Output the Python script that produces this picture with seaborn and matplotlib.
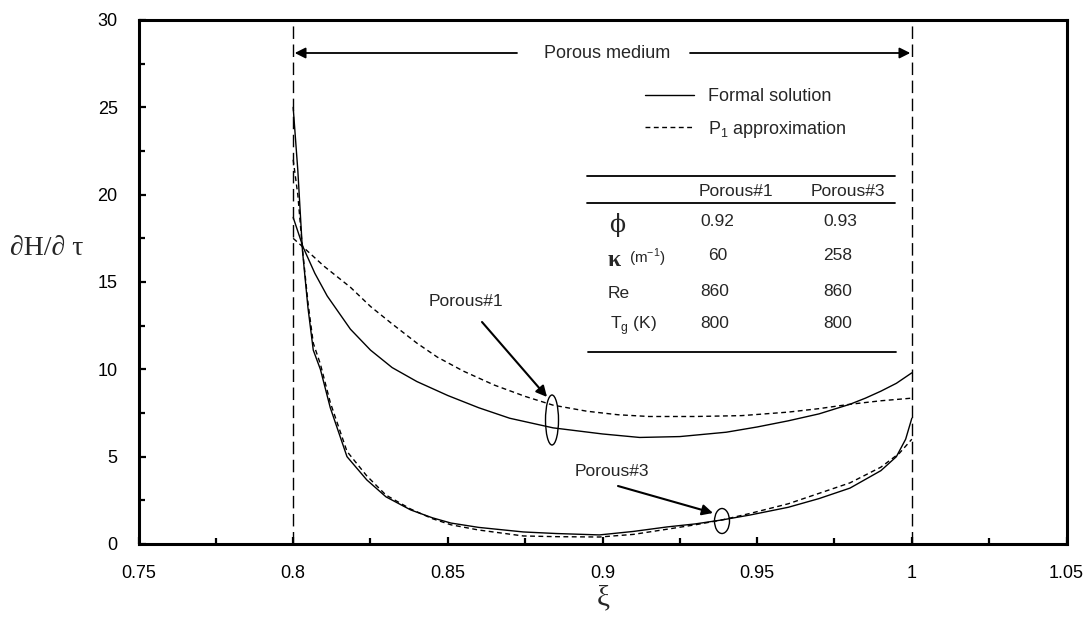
import matplotlib
matplotlib.use("Agg")
import matplotlib.pyplot as plt
import seaborn as sns
import pandas as pd
from matplotlib.patches import Ellipse
from matplotlib.lines import Line2D
from matplotlib.ticker import MultipleLocator

# ---------------- data ----------------
xi_p1_formal = [0.800, 0.8032, 0.807, 0.811, 0.8185, 0.825, 0.832, 0.840, 0.850, 0.860,
                0.870, 0.884, 0.900, 0.912, 0.925, 0.940, 0.950, 0.960, 0.970, 0.980,
                0.985, 0.990, 0.995, 1.000]
h_p1_formal = [18.7, 17.0, 15.5, 14.2, 12.3, 11.1, 10.1, 9.3, 8.5, 7.8,
               7.2, 6.65, 6.3, 6.1, 6.15, 6.4, 6.7, 7.05, 7.45, 8.0,
               8.35, 8.75, 9.2, 9.8]

xi_p1_approx = [0.800, 0.8032, 0.810, 0.8185, 0.825, 0.832, 0.840, 0.8466, 0.855, 0.865,
                0.875, 0.884, 0.895, 0.905, 0.915, 0.930, 0.945, 0.960, 0.970, 0.980,
                0.990, 1.000]
h_p1_approx = [17.5, 17.0, 15.9, 14.7, 13.6, 12.6, 11.5, 10.7, 9.9, 9.1,
               8.45, 7.95, 7.6, 7.4, 7.3, 7.3, 7.35, 7.55, 7.75, 8.0,
               8.2, 8.35]

xi_p3_formal = [0.800, 0.8015, 0.803, 0.8048, 0.8065, 0.8088, 0.812, 0.8174, 0.8238, 0.830,
                0.838, 0.845, 0.851, 0.860, 0.8744, 0.885, 0.899, 0.910, 0.921, 0.930,
                0.9387, 0.9477, 0.960, 0.970, 0.980, 0.990, 0.995, 0.998, 1.000]
h_p3_formal = [25.0, 21.4, 16.8, 13.5, 11.1, 10.0, 7.8, 5.0, 3.67, 2.7,
               1.95, 1.5, 1.2, 0.95, 0.69, 0.6, 0.52, 0.72, 0.98, 1.15,
               1.38, 1.66, 2.1, 2.6, 3.2, 4.2, 5.0, 6.0, 7.2]

xi_p3_approx = [0.800, 0.8015, 0.803, 0.8048, 0.8065, 0.8088, 0.812, 0.8174, 0.8238, 0.830,
                0.838, 0.845, 0.851, 0.860, 0.8744, 0.885, 0.899, 0.910, 0.921, 0.930,
                0.9387, 0.9477, 0.960, 0.970, 0.980, 0.990, 0.996, 1.000]
h_p3_approx = [22.0, 20.0, 16.9, 13.8, 11.5, 10.3, 8.1, 5.3, 3.9, 2.8,
               2.0, 1.45, 1.1, 0.8, 0.46, 0.42, 0.4, 0.55, 0.85, 1.1,
               1.38, 1.75, 2.3, 2.9, 3.5, 4.4, 5.2, 6.0]

medium_bounds = [0.8, 1.0]
x_ticks = [0.75, 0.8, 0.85, 0.9, 0.95, 1.0, 1.05]
x_tick_labels = ['0.75', '0.8', '0.85', '0.9', '0.95', '1', '1.05']
y_ticks = [0, 5, 10, 15, 20, 25, 30]
y_tick_labels = ['0', '5', '10', '15', '20', '25', '30']

legend_labels = ['Formal solution', r'P$_{\mathregular{1}}$ approximation']
table_cols = ['Porous#1', 'Porous#3']
phi_vals = ['0.92', '0.93']
kappa_vals = ['60', '258']
re_vals = ['860', '860']
tg_vals = ['800', '800']

# ---------------- style ----------------
sns.set_theme(style="white")
plt.rcParams['font.family'] = ['Liberation Sans', 'DejaVu Sans']
plt.rcParams['axes.edgecolor'] = 'black'

W, H = 1091, 639
fig = plt.figure(figsize=(W / 100, H / 100), dpi=100)
ax = fig.add_axes([138.5 / W, 1 - 544 / H, (1066.5 - 138.5) / W, (544 - 20) / H])

approx_dash = (0, (3.5, 2.5))
series = [
    (xi_p1_formal, h_p1_formal, '-'),
    (xi_p1_approx, h_p1_approx, approx_dash),
    (xi_p3_formal, h_p3_formal, '-'),
    (xi_p3_approx, h_p3_approx, approx_dash),
]
for xs, ys, ls in series:
    df = pd.DataFrame({'xi': xs, 'h': ys})
    sns.lineplot(data=df, x='xi', y='h', ax=ax, color='black', lw=1.0,
                 linestyle=ls, estimator=None, sort=False)

for b in medium_bounds:
    ax.axvline(b, color='black', lw=1.0, linestyle=(0, (9, 4)))

ax.set_xlim(0.75, 1.05)
ax.set_ylim(0, 30)
ax.set_xticks(x_ticks)
ax.set_xticklabels(x_tick_labels)
ax.set_yticks(y_ticks)
ax.set_yticklabels(y_tick_labels)
ax.xaxis.set_minor_locator(MultipleLocator(0.025))
ax.yaxis.set_minor_locator(MultipleLocator(2.5))
ax.tick_params(which='both', direction='in', bottom=True, left=True, top=False, right=False,
               width=1.6, colors='black', labelsize=13, pad=15)
ax.tick_params(which='major', length=5)
ax.tick_params(which='minor', length=4.5)
ax.set_xlabel('')
ax.set_ylabel('')
for sp in ax.spines.values():
    sp.set_linewidth(2.2)
    sp.set_color('black')

# axis labels
fig.text(47 / W, 1 - 248 / H, '\u2202H/\u2202 \u03c4', family=['Liberation Serif', 'DejaVu Serif'],
         fontsize=20, ha='center', va='center')
fig.text(603 / W, 1 - 598 / H, '\u03be', family=['Liberation Serif', 'DejaVu Serif'],
         fontsize=21, ha='center', va='center')

# helper: pixel -> data
def pd_(px, py):
    return (0.75 + (px - 138.5) / 3093.3, (544 - py) / (524 / 30))

# porous medium arrows
y_arr = pd_(0, 53)[1]
ax.annotate('', xy=(medium_bounds[0] + 0.0005, y_arr), xytext=(pd_(517, 0)[0], y_arr),
            arrowprops=dict(arrowstyle='-|>', color='black', lw=1.3, mutation_scale=16,
                            shrinkA=0, shrinkB=0))
ax.annotate('', xy=(medium_bounds[1] - 0.0005, y_arr), xytext=(pd_(690, 0)[0], y_arr),
            arrowprops=dict(arrowstyle='-|>', color='black', lw=1.3, mutation_scale=16,
                            shrinkA=0, shrinkB=0))
ax.text(pd_(607, 0)[0], y_arr, 'Porous medium', fontsize=13, ha='center', va='center')

# ellipses and labels
e1 = pd_(552, 420)
ax.add_patch(Ellipse(e1, 13 / 3093.3, 50 / (524 / 30), fill=False, color='black', lw=1.0))
e3 = pd_(722, 521)
ax.add_patch(Ellipse(e3, 15 / 3093.3, 25 / (524 / 30), fill=False, color='black', lw=1.0))

ax.annotate('', xy=pd_(547, 397), xytext=pd_(482, 322),
            arrowprops=dict(arrowstyle='-|>', color='black', lw=1.5, mutation_scale=16,
                            shrinkA=0, shrinkB=0))
ax.text(*pd_(466, 302), 'Porous#1', fontsize=12.5, ha='center', va='center')
ax.annotate('', xy=pd_(713, 513), xytext=pd_(618, 486),
            arrowprops=dict(arrowstyle='-|>', color='black', lw=1.5, mutation_scale=16,
                            shrinkA=0, shrinkB=0))
ax.text(*pd_(612, 472), 'Porous#3', fontsize=12.5, ha='center', va='center')

# legend
handles = [Line2D([], [], color='black', lw=1.0, linestyle='-'),
           Line2D([], [], color='black', lw=1.0, linestyle=approx_dash)]
fig.legend(handles, legend_labels, loc='upper left', bbox_to_anchor=(645 / W, 1 - 88 / H),
           bbox_transform=fig.transFigure, frameon=False, fontsize=13, handlelength=2.7,
           handletextpad=0.8, labelspacing=0.75, borderpad=0, borderaxespad=0)

# parameter table
def ftext(px, py, s, **kw):
    kw.setdefault('fontsize', 12.5)
    kw.setdefault('va', 'center')
    fig.text(px / W, 1 - py / H, s, **kw)

for y_line, x0, x1, lw in [(176, 587, 895, 1.3), (203, 587, 895, 1.3), (352, 588, 896, 1.3)]:
    fig.add_artist(Line2D([x0 / W, x1 / W], [1 - y_line / H, 1 - y_line / H],
                          color='black', lw=lw, transform=fig.transFigure))

ftext(736, 191, table_cols[0], ha='center')
ftext(848, 191, table_cols[1], ha='center')
col_x = [700, 823]
ftext(617, 225, '\u03d5', ha='center', family=['DejaVu Serif'], fontsize=17)
ftext(608, 260, '\u03ba', ha='left', family=['Liberation Serif', 'DejaVu Serif'],
      fontsize=17, fontweight='bold')
ftext(629, 258, r'(m$^{\mathregular{-1}}$)', ha='left', fontsize=11)
ftext(608, 294, 'Re', ha='left')
ftext(610, 326, r'T$_{\mathregular{g}}$ (K)', ha='left')
ftext(col_x[0], 222, phi_vals[0], ha='left')
ftext(col_x[1], 222, phi_vals[1], ha='left')
ftext(col_x[0] + 8, 256, kappa_vals[0], ha='left')
ftext(col_x[1], 256, kappa_vals[1], ha='left')
ftext(col_x[0], 291, re_vals[0], ha='left')
ftext(col_x[1], 291, re_vals[1], ha='left')
ftext(col_x[0], 324, tg_vals[0], ha='left')
ftext(col_x[1], 324, tg_vals[1], ha='left')

fig.savefig('out.png', dpi=100)
